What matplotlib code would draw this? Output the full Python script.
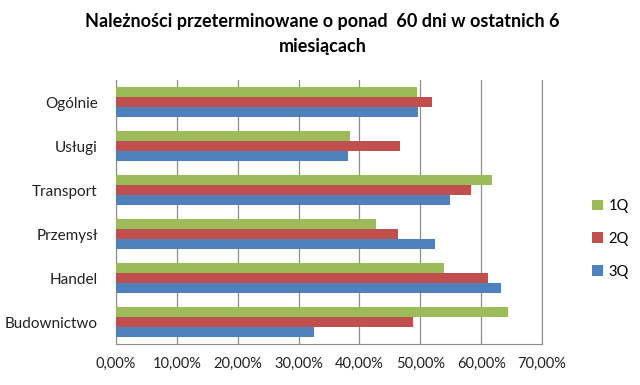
import numpy as np
import matplotlib.pyplot as plt
from matplotlib.ticker import FuncFormatter

plt.rcParams['font.family'] = ['Lato', 'DejaVu Sans']

# data (share of receivables overdue by more than 60 days, %)
categories = ["Ogólnie", "Usługi", "Transport", "Przemysł", "Handel", "Budownictwo"]
q1 = [49.5, 38.5, 61.7, 42.7, 53.9, 64.4]
q2 = [52.0, 46.6, 58.3, 46.4, 61.1, 48.8]
q3 = [49.6, 38.1, 54.8, 52.4, 63.2, 32.6]
series_labels = ["1Q", "2Q", "3Q"]
colors = ["#9BBB59", "#C0504D", "#4F81BD"]

fig = plt.figure(figsize=(6.4, 3.85), dpi=100)
ax = fig.add_axes([0.181, 0.106, 0.666, 0.686])

y = np.arange(len(categories))
h = 0.227
for i, (vals, lab, col) in enumerate(zip([q1, q2, q3], series_labels, colors)):
    ax.barh(y + (i - 1) * h, vals, height=h, color=col, label=lab, zorder=3)

ax.set_ylim(len(categories) - 0.5, -0.5)
ax.set_xlim(0, 70)
ax.set_xticks(np.arange(0, 71, 10))
ax.xaxis.set_major_formatter(FuncFormatter(lambda v, p: f"{v:.2f}%".replace(".", ",")))
ax.set_yticks(y)
ax.set_yticklabels(categories)

ax.grid(axis="x", color="#8c8c8c", linewidth=0.9, zorder=0)
ax.spines["top"].set_visible(False)
for s in ["left", "right", "bottom"]:
    ax.spines[s].set_color("#8c8c8c")
ax.tick_params(axis="y", length=0, pad=13, labelsize=11, colors="#222222")
ax.tick_params(axis="x", length=0, pad=9, labelsize=10.5, colors="#222222")

fig.suptitle("Należności przeterminowane o ponad  60 dni w ostatnich 6\nmiesiącach",
             x=0.504, y=0.965, fontsize=13, fontweight="bold", linespacing=1.55)

fig.legend(loc="center left", bbox_to_anchor=(0.905, 0.38), frameon=False,
           fontsize=10.5, handlelength=0.7, handleheight=0.7, labelspacing=1.3,
           handletextpad=0.4)

fig.savefig("out.png", dpi=100)
